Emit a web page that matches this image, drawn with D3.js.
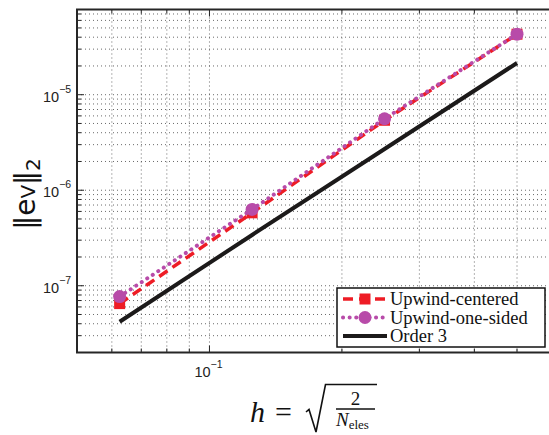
<!DOCTYPE html>
<html>
<head>
<meta charset="utf-8">
<script src="https://cdn.jsdelivr.net/npm/d3@7"></script>
<style>
  body { margin: 0; background: #fff; }
  svg { display: block; }
</style>
</head>
<body>
<svg id="chart" width="549" height="435"></svg>
<script>
// ---- data
const hValues = [0.0625, 0.125, 0.25, 0.5];
const upwindCentered = [6.5e-8, 5.8e-7, 5.4e-6, 4.3e-5];
const upwindOneSided = [7.7e-8, 6.3e-7, 5.6e-6, 4.3e-5];
const order3 = [4.2e-8, 3.4e-7, 2.7e-6, 2.15e-5];
const seriesNames = ['Upwind-centered', 'Upwind-one-sided', 'Order 3'];
const xTickLabels = [{ v: 0.1, base: '10', exp: '\u22121' }];
const yTickLabels = [
  { v: 1e-5, base: '10', exp: '\u22125' },
  { v: 1e-6, base: '10', exp: '\u22126' },
  { v: 1e-7, base: '10', exp: '\u22127' }
];

const SANS = "'Liberation Sans', Arial, sans-serif";
const SERIF = "'Liberation Serif', 'DejaVu Serif', serif";

const svg = d3.select('#chart');
const W = 549, H = 435;
const plotLeft = 77, plotTop = 9.5, plotBottom = 352.5;

// ---- scales
const x = d3.scaleLog().domain([0.05, 0.5]).range([plotLeft, 517]);
const y = d3.scaleLog().domain([2e-8, 7.8e-5]).range([plotBottom, plotTop]);
const plotRight = W + 10; // frame runs off the picture on the right

const g = svg.append('g');

// ---- grid (dotted, matlab style)
const xGrid = [];
for (const d of [0.01, 0.1]) for (let k = 1; k <= 9; k++) xGrid.push(d * k);
const xGridIn = xGrid.filter(v => x(v) > plotLeft + 1 && x(v) < plotRight);
const yGrid = [];
for (let e = -8; e <= -4; e++) for (let k = 1; k <= 9; k++) yGrid.push(k * Math.pow(10, e));
const yGridIn = yGrid.filter(v => y(v) > plotTop + 1 && y(v) < plotBottom - 1);

g.append('g').selectAll('line').data(xGridIn).join('line')
  .attr('x1', d => x(d)).attr('x2', d => x(d))
  .attr('y1', plotTop).attr('y2', plotBottom)
  .attr('stroke', '#444').attr('stroke-width', 0.8)
  .attr('stroke-dasharray', '1,3');

g.append('g').selectAll('line').data(yGridIn).join('line')
  .attr('x1', plotLeft).attr('x2', plotRight)
  .attr('y1', d => y(d)).attr('y2', d => y(d))
  .attr('stroke', '#444').attr('stroke-width', 0.8)
  .attr('stroke-dasharray', '1,3');

// ---- inward ticks
const isMajor = v => Math.abs(Math.log10(v) - Math.round(Math.log10(v))) < 1e-6;
g.append('g').selectAll('line').data(yGridIn).join('line')
  .attr('x1', plotLeft).attr('x2', d => plotLeft + (isMajor(d) ? 7 : 4))
  .attr('y1', d => y(d)).attr('y2', d => y(d))
  .attr('stroke', '#222').attr('stroke-width', 1);
g.append('g').selectAll('line').data(xGridIn).join('line')
  .attr('x1', d => x(d)).attr('x2', d => x(d))
  .attr('y1', plotBottom).attr('y2', d => plotBottom - (isMajor(d) ? 7 : 4))
  .attr('stroke', '#222').attr('stroke-width', 1);
g.append('g').selectAll('line').data(xGridIn).join('line')
  .attr('x1', d => x(d)).attr('x2', d => x(d))
  .attr('y1', plotTop).attr('y2', d => plotTop + (isMajor(d) ? 7 : 4))
  .attr('stroke', '#222').attr('stroke-width', 1);

// ---- frame
g.append('path')
  .attr('d', `M${plotRight},${plotTop}H${plotLeft}V${plotBottom}H${plotRight}`)
  .attr('fill', 'none').attr('stroke', '#262626').attr('stroke-width', 2);

// ---- tick labels
const yl = g.append('g').attr('font-family', SANS).attr('fill', '#222');
yTickLabels.forEach(t => {
  const txt = yl.append('text').attr('x', 43).attr('y', y(t.v) + 7).attr('font-size', 14.5);
  txt.append('tspan').text(t.base);
  txt.append('tspan').attr('dy', -9).attr('font-size', 10.5).text(t.exp);
});
xTickLabels.forEach(t => {
  const txt = yl.append('text').attr('x', x(t.v) - 15).attr('y', 377).attr('font-size', 14.5);
  txt.append('tspan').text(t.base);
  txt.append('tspan').attr('dy', -9).attr('font-size', 10.5).text(t.exp);
});

// ---- series
const pts = vals => hValues.map((h, i) => [h, vals[i]]);
const line = d3.line().x(d => x(d[0])).y(d => y(d[1]));

const red = '#ee1c25', purple = '#b84ba9', black = '#1c1a1a';

g.append('path').datum(pts(upwindCentered)).attr('d', line)
  .attr('fill', 'none').attr('stroke', red).attr('stroke-width', 3.5)
  .attr('stroke-dasharray', '10,6');
g.append('g').selectAll('rect').data(pts(upwindCentered)).join('rect')
  .attr('x', d => x(d[0]) - 5.5).attr('y', d => y(d[1]) - 5.5)
  .attr('width', 11).attr('height', 11).attr('fill', red);

g.append('path').datum(pts(upwindOneSided)).attr('d', line)
  .attr('fill', 'none').attr('stroke', purple).attr('stroke-width', 4)
  .attr('stroke-linecap', 'round').attr('stroke-dasharray', '0.1,6.5');
g.append('g').selectAll('circle').data(pts(upwindOneSided)).join('circle')
  .attr('cx', d => x(d[0])).attr('cy', d => y(d[1])).attr('r', 6.5)
  .attr('fill', purple);

g.append('path').datum(pts(order3)).attr('d', line)
  .attr('fill', 'none').attr('stroke', black).attr('stroke-width', 4);

// ---- legend
const lg = g.append('g');
lg.append('rect').attr('x', 337).attr('y', 288).attr('width', 208).attr('height', 59)
  .attr('fill', '#fff').attr('stroke', '#111').attr('stroke-width', 1.5);
const rows = [299, 317.5, 336];
const styles = [
  { stroke: red, w: 3.5, dash: '10,6', cap: 'butt', marker: 'rect' },
  { stroke: purple, w: 4, dash: '0.1,6.5', cap: 'round', marker: 'circle' },
  { stroke: black, w: 4, dash: null, cap: 'butt', marker: null }
];
seriesNames.forEach((name, i) => {
  const s = styles[i], cy = rows[i];
  lg.append('line').attr('x1', 343).attr('x2', 387).attr('y1', cy).attr('y2', cy)
    .attr('stroke', s.stroke).attr('stroke-width', s.w)
    .attr('stroke-linecap', s.cap).attr('stroke-dasharray', s.dash);
  if (s.marker === 'rect') {
    lg.append('rect').attr('x', 365 - 5.5).attr('y', cy - 5.5).attr('width', 11).attr('height', 11).attr('fill', s.stroke);
  } else if (s.marker === 'circle') {
    lg.append('circle').attr('cx', 365).attr('cy', cy).attr('r', 6.5).attr('fill', s.stroke);
  }
  lg.append('text').attr('x', 390).attr('y', cy + 6)
    .attr('font-family', SERIF).attr('font-size', 18.5).attr('fill', '#111')
    .attr('textLength', i === 2 ? null : null)
    .text(name);
});

// ---- y label  ||e_V||_2
const ylab = svg.append('text')
  .attr('transform', 'translate(35,194) rotate(-90)')
  .attr('text-anchor', 'middle')
  .attr('font-family', "'DejaVu Sans', sans-serif").attr('font-size', 28).attr('fill', '#111');
ylab.append('tspan').text('\u2016');
ylab.append('tspan').text('e');
ylab.append('tspan').attr('font-size', 20).text('V');
ylab.append('tspan').text('\u2016');
ylab.append('tspan').attr('font-size', 20).attr('dy', 5).text('2');

// ---- x label  h = sqrt(2 / N_eles)
const xl = svg.append('g').attr('fill', '#111').attr('font-family', SERIF);
xl.append('text').attr('x', 250).attr('y', 422).attr('font-size', 30).attr('font-style', 'italic').text('h');
xl.append('text').attr('x', 275).attr('y', 422).attr('font-size', 30).text('=');
xl.append('path')
  .attr('d', 'M306,412 L309,409.5 L316,432 L325.5,384.5 L377,384.5')
  .attr('fill', 'none').attr('stroke', '#111').attr('stroke-width', 1.6);
xl.append('text').attr('x', 355.5).attr('y', 405).attr('text-anchor', 'middle').attr('font-size', 19).text('2');
xl.append('line').attr('x1', 336).attr('x2', 375).attr('y1', 409).attr('y2', 409)
  .attr('stroke', '#111').attr('stroke-width', 1.6);
const nt = xl.append('text').attr('x', 336).attr('y', 426).attr('font-size', 19);
nt.append('tspan').attr('font-style', 'italic').text('N');
nt.append('tspan').attr('font-size', 13).attr('dy', 3).text('eles');
</script>
</body>
</html>
